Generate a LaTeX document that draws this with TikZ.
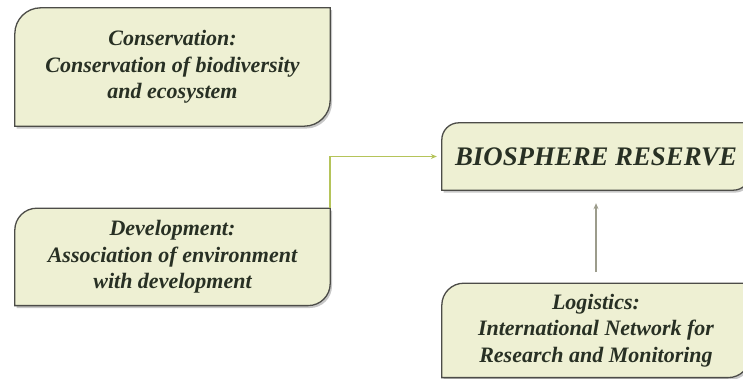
\documentclass[tikz,border=0pt]{standalone}
\usepackage{fontspec}
\setmainfont{Liberation Serif}
\usetikzlibrary{arrows.meta,backgrounds,positioning}
\definecolor{pillarfill}{HTML}{EEF0D3}
\definecolor{pillarline}{HTML}{4C4C48}
\definecolor{pillartext}{HTML}{283024}
\definecolor{linkgreen}{HTML}{B5C45A}
\definecolor{linkgray}{HTML}{9C9C8C}
\tikzset{
	pillar/.style={align=center, inner sep=0pt, text=pillartext,
		font=\bfseries\itshape\fontsize{22}{26.5}\selectfont},
	pillar head/.style={pillar, font=\bfseries\itshape\fontsize{26.8}{30}\selectfont},
	pillar shape/.style={fill=pillarfill, draw=pillarline, line width=1.3pt},
	pillar shadow/.style={fill=black!40, opacity=.55,
		transform canvas={shift={(1.8pt,-2.4pt)}}},
	link/.style={line width=1.6pt, -{Stealth[length=6pt,width=5pt]}},
}

\begin{document}
\begin{tikzpicture}[x=1pt, y=1pt]
  \useasboundingbox (0,0) rectangle (743,-379);
  \node[pillar, minimum width=315pt, minimum height=118pt] (cons) at (172.5,-67)
        {Conservation:\\Conservation of biodiversity\\and ecosystem};
  \node[pillar, minimum width=315pt, minimum height=97pt, below=82pt of cons] (dev)
        {Development:\\Association of environment\\with development};
  \node[pillar head, minimum width=308pt, minimum height=67pt] (bio) at (596,-156.5)
        {BIOSPHERE RESERVE};
  \node[pillar, minimum width=308pt, minimum height=94pt, below=93pt of bio] (log)
        {Logistics:\\International Network for\\Research and Monitoring};
  % box outlines: round corners top left and bottom right only
  \begin{scope}[on background layer]
    \foreach \n/\r in {cons/26,dev/22,bio/17,log/22} {
      \fill[pillar shadow] (\n.south west) -- ([yshift=-\r]\n.north west)
          arc[start angle=180, end angle=90, radius=\r] -- (\n.north east)
          -- ([yshift=\r]\n.south east) arc[start angle=0, end angle=-90, radius=\r] -- cycle;
      \path[pillar shape] (\n.south west) -- ([yshift=-\r]\n.north west)
          arc[start angle=180, end angle=90, radius=\r] -- (\n.north east)
          -- ([yshift=\r]\n.south east) arc[start angle=0, end angle=-90, radius=\r] -- cycle;
    }
  \end{scope}
  \draw[link, linkgreen, shorten >=5pt] (dev.north east) |- (bio.west);
  \draw[link, linkgray, shorten <=11pt, shorten >=13pt] (log.north) -- (bio.south);
\end{tikzpicture}
\end{document}
